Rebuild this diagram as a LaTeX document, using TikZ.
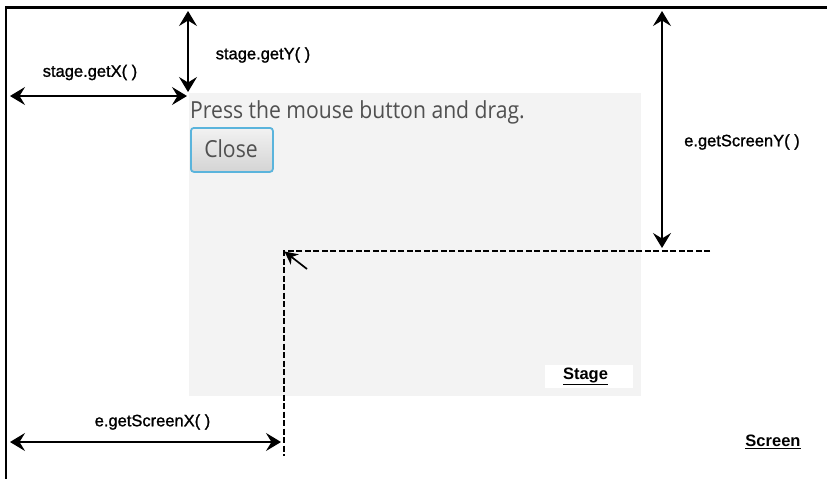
\documentclass[tikz,border=0pt]{standalone}
\usepackage{fontspec}
\setmainfont{Liberation Sans}
\newfontfamily\lblfont{Liberation Sans}[FakeBold=1.2]
\newfontfamily\ttlfont{Liberation Sans Bold}
\newfontfamily\uifont{Open Sans}[FakeStretch=0.9]
\usetikzlibrary{arrows.meta}
\definecolor{stagebg}{HTML}{F3F3F3}
\definecolor{uitext}{HTML}{505050}
\definecolor{btnborder}{HTML}{5AB4DC}
\definecolor{btntop}{HTML}{F2F2F2}
\definecolor{btnbot}{HTML}{D4D4D4}
\begin{document}
\begin{tikzpicture}[x=1pt,y=-1pt,
  dimarrow/.style={line width=1.9pt,{Stealth[length=15pt,width=18pt,inset=5.5pt]}-{Stealth[length=15pt,width=18pt,inset=5.5pt]}},
  pointer/.style={line width=1.7pt,-{Stealth[length=13pt,width=13pt,inset=4pt]}},
  guide/.style={line width=1.3pt,dash pattern=on 6pt off 2.5pt},
  lbl/.style={font=\lblfont\fontsize{16.5}{20}\selectfont,inner sep=0pt},
  ttl/.style={font=\ttlfont\fontsize{16.5}{20}\selectfont,inner sep=0pt}]
\useasboundingbox (0,0) rectangle (827,479);
% screen frame
\draw[line width=2.2pt] (827,7.5) -- (6,7.5) -- (6,479);
% stage
\node[fill=stagebg,minimum width=452pt,minimum height=303pt,inner sep=0pt,anchor=north west] (stage) at (189,93) {};
\node[font=\uifont\fontsize{23.5}{26}\selectfont,text=uitext,anchor=base west,inner sep=0pt] (msg) at (190,118) {Press the mouse button and drag.};
\node[draw=btnborder,line width=1.8pt,rounded corners=3pt,top color=btntop,bottom color=btnbot,minimum width=82pt,minimum height=44pt,anchor=north west,inner sep=0pt] (close) at (190,127) {};
\node[font=\uifont\fontsize{23.5}{26}\selectfont,text=uitext,anchor=base,inner sep=0pt] (closetxt) at (231,157) {Close};
\node[fill=white,minimum width=88pt,minimum height=23pt,inner sep=0pt] (stagebox) at (589,376.5) {};
\node[ttl] (stagelbl) at (585.5,376) {\underline{Stage}};
\node[ttl] (screenlbl) at (773,442) {\underline{Screen}};
% coordinates
\coordinate (sxL) at (10,96);
\coordinate (sxR) at (187,96);
\coordinate (syT) at (188,11);
\coordinate (syB) at (188,92);
\coordinate (eyT) at (662,11);
\coordinate (eyB) at (662,248);
\coordinate (exL) at (10,442);
\coordinate (exR) at (281,442);
\coordinate (pt) at (284,251);
\coordinate (hEnd) at (710,251);
\coordinate (vEnd) at (284,456);
\coordinate (ptr) at (307,269);
\coordinate (ptrTip) at (284.5,251.5);
% guides
\draw[guide] (hEnd) -- (pt) -- (vEnd);
% dimension arrows
\draw[dimarrow] (sxL) -- (sxR);
\draw[dimarrow] (syT) -- (syB);
\draw[dimarrow] (eyT) -- (eyB);
\draw[dimarrow] (exL) -- (exR);
\draw[pointer] (ptr) -- (ptrTip);
% labels
\node[lbl] (lgx) at (90,72.5) {stage.getX( )};
\node[lbl] (lgy) at (263,55) {stage.getY( )};
\node[lbl] (lsy) at (742,142) {e.getScreenY( )};
\node[lbl] (lsx) at (152.5,422) {e.getScreenX( )};
\end{tikzpicture}
\end{document}
